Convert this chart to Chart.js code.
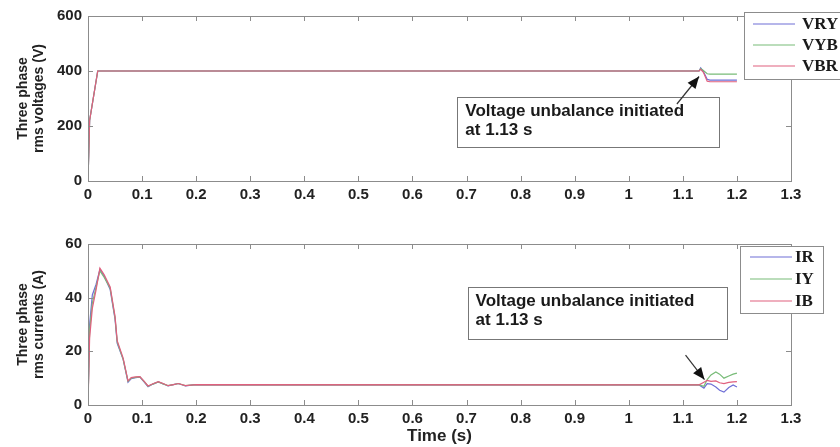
<!DOCTYPE html>
<html>
<head>
<meta charset="utf-8">
<script src="https://cdn.jsdelivr.net/npm/chart.js@4.4.1/dist/chart.umd.min.js"></script>
<style>
  html, body { margin: 0; padding: 0; background: #fff; }
  #wrap { position: relative; width: 840px; height: 447px; overflow: hidden; }
  #c1 { position: absolute; left: 0; top: 0; }
  #c2 { position: absolute; left: 0; top: 215px; }
</style>
</head>
<body>
<div id="wrap">
  <canvas id="c1" width="840" height="215"></canvas>
  <canvas id="c2" width="840" height="232"></canvas>
</div>
<script>
// voltages (V) vs time (s)
const timeV = [0, 0.003, 0.018, 0.05, 1.13, 1.133, 1.138, 1.145, 1.15, 1.2];
const vRY = [0, 220, 400, 400, 400, 411, 398, 370, 367, 367];
const vYB = [0, 220, 400, 400, 400, 409, 402, 390, 389, 389];
const vBR = [0, 220, 400, 400, 400, 406, 395, 363, 361, 361];

// currents (A) vs time (s)
const timeI = [0, 0.003, 0.008, 0.015, 0.022, 0.03, 0.041, 0.05, 0.054, 0.065, 0.074, 0.08, 0.088, 0.096, 0.104, 0.111, 0.12, 0.13, 0.14, 0.148, 0.158, 0.167, 0.18, 0.2, 1.13, 1.139, 1.145, 1.152, 1.161, 1.168, 1.176, 1.185, 1.193, 1.2];
const iR = [0, 30, 41, 45, 50.5, 48, 43, 32, 23, 17, 8.5, 9.8, 10.2, 10.4, 8.5, 6.8, 7.8, 8.6, 7.8, 7.1, 7.6, 8.0, 7.1, 7.6, 7.5, 6.3, 8.0, 7.8, 6.7, 5.5, 4.8, 6.5, 7.5, 6.7];
const iY = [0, 28, 38, 44, 50, 47.5, 43.5, 32.5, 23.5, 17, 8.8, 10, 10.3, 10.5, 8.7, 7, 7.8, 8.6, 7.8, 7.2, 7.6, 8.0, 7.2, 7.6, 7.5, 7.0, 9.5, 11.2, 12.3, 11.5, 10.0, 10.8, 11.5, 11.9];
const iB = [0, 25, 36, 43, 51, 48.5, 44, 33, 24, 17.5, 9, 10.2, 10.5, 10.6, 8.8, 7.1, 7.9, 8.7, 7.9, 7.2, 7.6, 8.0, 7.2, 7.6, 7.5, 8.5, 9.2, 8.8, 9.0, 8.3, 8.0, 8.4, 8.6, 8.7];

const xTicks = [0, 0.1, 0.2, 0.3, 0.4, 0.5, 0.6, 0.7, 0.8, 0.9, 1, 1.1, 1.2, 1.3];
const colBlue = "#6e6ed6", colGreen = "#78bc78", colRed = "#e0607e";

const pts = (xs, ys) => xs.map((x, i) => ({ x: x, y: ys[i] }));

// matlab-ish box with inward ticks, legend, text box with arrow
const matlabBox = {
  id: "matlabBox",
  afterDraw(chart, args, opts) {
    const ctx = chart.ctx, a = chart.chartArea;
    const xs = chart.scales.x, ys = chart.scales.y;
    ctx.save();
    ctx.strokeStyle = "#8c8c8c";
    ctx.lineWidth = 1;
    ctx.strokeRect(a.left + 0.5, a.top + 0.5, a.right - a.left, a.bottom - a.top);
    ctx.beginPath();
    xs.ticks.forEach(t => {
      const px = Math.round(xs.getPixelForValue(t.value)) + 0.5;
      ctx.moveTo(px, a.bottom); ctx.lineTo(px, a.bottom - 5);
      ctx.moveTo(px, a.top); ctx.lineTo(px, a.top + 5);
    });
    ys.ticks.forEach(t => {
      const py = Math.round(ys.getPixelForValue(t.value)) + 0.5;
      ctx.moveTo(a.left, py); ctx.lineTo(a.left + 5, py);
      ctx.moveTo(a.right, py); ctx.lineTo(a.right - 5, py);
    });
    ctx.stroke();

    // annotation box
    const n = opts.note;
    const bx0 = xs.getPixelForValue(n.x0), bx1 = xs.getPixelForValue(n.x1);
    const by0 = ys.getPixelForValue(n.y0), by1 = ys.getPixelForValue(n.y1);
    ctx.fillStyle = "#fff";
    ctx.fillRect(bx0, by0, bx1 - bx0, by1 - by0);
    ctx.strokeStyle = "#777";
    ctx.strokeRect(Math.round(bx0) + 0.5, Math.round(by0) + 0.5, Math.round(bx1 - bx0), Math.round(by1 - by0));
    ctx.fillStyle = "#1a1a1a";
    ctx.font = "bold 17px 'Liberation Sans', Arial, sans-serif";
    ctx.textBaseline = "alphabetic";
    n.lines.forEach((s, i) => ctx.fillText(s, bx0 + 8, by0 + 19 + i * 19));

    // arrow
    const tx = xs.getPixelForValue(n.arrow[0]), ty = ys.getPixelForValue(n.arrow[1]);
    const hx = xs.getPixelForValue(n.arrow[2]), hy = ys.getPixelForValue(n.arrow[3]);
    const ang = Math.atan2(hy - ty, hx - tx);
    ctx.strokeStyle = "#333";
    ctx.lineWidth = 1.2;
    ctx.beginPath(); ctx.moveTo(tx, ty); ctx.lineTo(hx, hy); ctx.stroke();
    ctx.fillStyle = "#111";
    ctx.beginPath();
    ctx.moveTo(hx, hy);
    ctx.lineTo(hx - 13 * Math.cos(ang - 0.4), hy - 13 * Math.sin(ang - 0.4));
    ctx.lineTo(hx - 13 * Math.cos(ang + 0.4), hy - 13 * Math.sin(ang + 0.4));
    ctx.closePath(); ctx.fill();

    // legend
    const L = opts.legend;
    ctx.fillStyle = "#fff";
    ctx.fillRect(L.x, L.y, L.w, L.h);
    ctx.strokeStyle = "#8c8c8c";
    ctx.lineWidth = 1;
    ctx.strokeRect(L.x + 0.5, L.y + 0.5, L.w, L.h);
    ctx.font = "bold 17px 'Liberation Serif', 'Times New Roman', serif";
    ctx.textBaseline = "middle";
    chart.data.datasets.forEach((ds, i) => {
      const yy = L.y + L.first + i * L.gap;
      ctx.strokeStyle = ds.borderColor;
      ctx.lineWidth = 1.2;
      ctx.beginPath(); ctx.moveTo(L.x + L.l0, yy); ctx.lineTo(L.x + L.l1, yy); ctx.stroke();
      ctx.fillStyle = "#1a1a1a";
      ctx.fillText(ds.label, L.x + L.tx, yy + 1);
    });
    ctx.restore();
  }
};

const tickFont = { family: "'Liberation Sans', Arial", size: 15, weight: "bold" };

function makeChart(id, datasets, ymax, ystep, ytitle, xtitle, padTop, xh, note, legend) {
  return new Chart(document.getElementById(id), {
    type: "line",
    data: { datasets: datasets },
    options: {
      responsive: false,
      animation: false,
      layout: { padding: { top: padTop, right: 49, left: 0, bottom: 0 } },
      elements: { point: { radius: 0 }, line: { borderWidth: 1.2, tension: 0 } },
      plugins: { legend: { display: false }, tooltip: { enabled: false }, matlabBox: { note: note, legend: legend } },
      scales: {
        x: {
          type: "linear", min: 0, max: 1.3,
          afterBuildTicks: s => { s.ticks = xTicks.map(v => ({ value: v })); },
          afterFit: s => { s.height = xh; },
          grid: { display: false, drawTicks: false },
          border: { display: false },
          ticks: { color: "#222", padding: 5, font: tickFont, callback: v => String(+v.toFixed(1)) },
          title: { display: !!xtitle, text: xtitle, color: "#222", padding: { top: 0, bottom: 0 },
                   font: { family: "'Liberation Sans', Arial", size: 17, weight: "bold" } }
        },
        y: {
          min: 0, max: ymax,
          ticks: { stepSize: ystep, color: "#222", padding: 6, font: tickFont },
          afterFit: s => { s.width = 88; },
          grid: { display: false, drawTicks: false },
          border: { display: false },
          title: { display: true, text: ytitle, color: "#222", padding: { top: 15, bottom: 0 },
                   font: { family: "'Liberation Sans', Arial", size: 14, weight: "bold", lineHeight: 1.15 } }
        }
      }
    },
    plugins: [matlabBox]
  });
}

makeChart("c1", [
  { label: "VRY", data: pts(timeV, vRY), borderColor: colBlue, order: 2 },
  { label: "VYB", data: pts(timeV, vYB), borderColor: colGreen, order: 1 },
  { label: "VBR", data: pts(timeV, vBR), borderColor: colRed, order: 0 }
], 600, 200, ["Three phase", "rms voltages (V)"], "", 16, 34,
  { x0: 0.683, x1: 1.167, y0: 305, y1: 124, lines: ["Voltage unbalance initiated", "at 1.13 s"], arrow: [1.089, 280, 1.13, 380] },
  { x: 744, y: 12, w: 110, h: 67, first: 12, gap: 21, l0: 9, l1: 51, tx: 58 });

makeChart("c2", [
  { label: "IR", data: pts(timeI, iR), borderColor: colBlue, order: 2 },
  { label: "IY", data: pts(timeI, iY), borderColor: colGreen, order: 1 },
  { label: "IB", data: pts(timeI, iB), borderColor: colRed, order: 0 }
], 60, 20, ["Three phase", "rms currents (A)"], "Time (s)", 29, 42,
  { x0: 0.702, x1: 1.181, y0: 44, y1: 24.6, lines: ["Voltage unbalance initiated", "at 1.13 s"], arrow: [1.105, 18.6, 1.14, 9.5] },
  { x: 740, y: 31, w: 83, h: 67, first: 11, gap: 22, l0: 10, l1: 52, tx: 55 });
</script>
</body>
</html>
